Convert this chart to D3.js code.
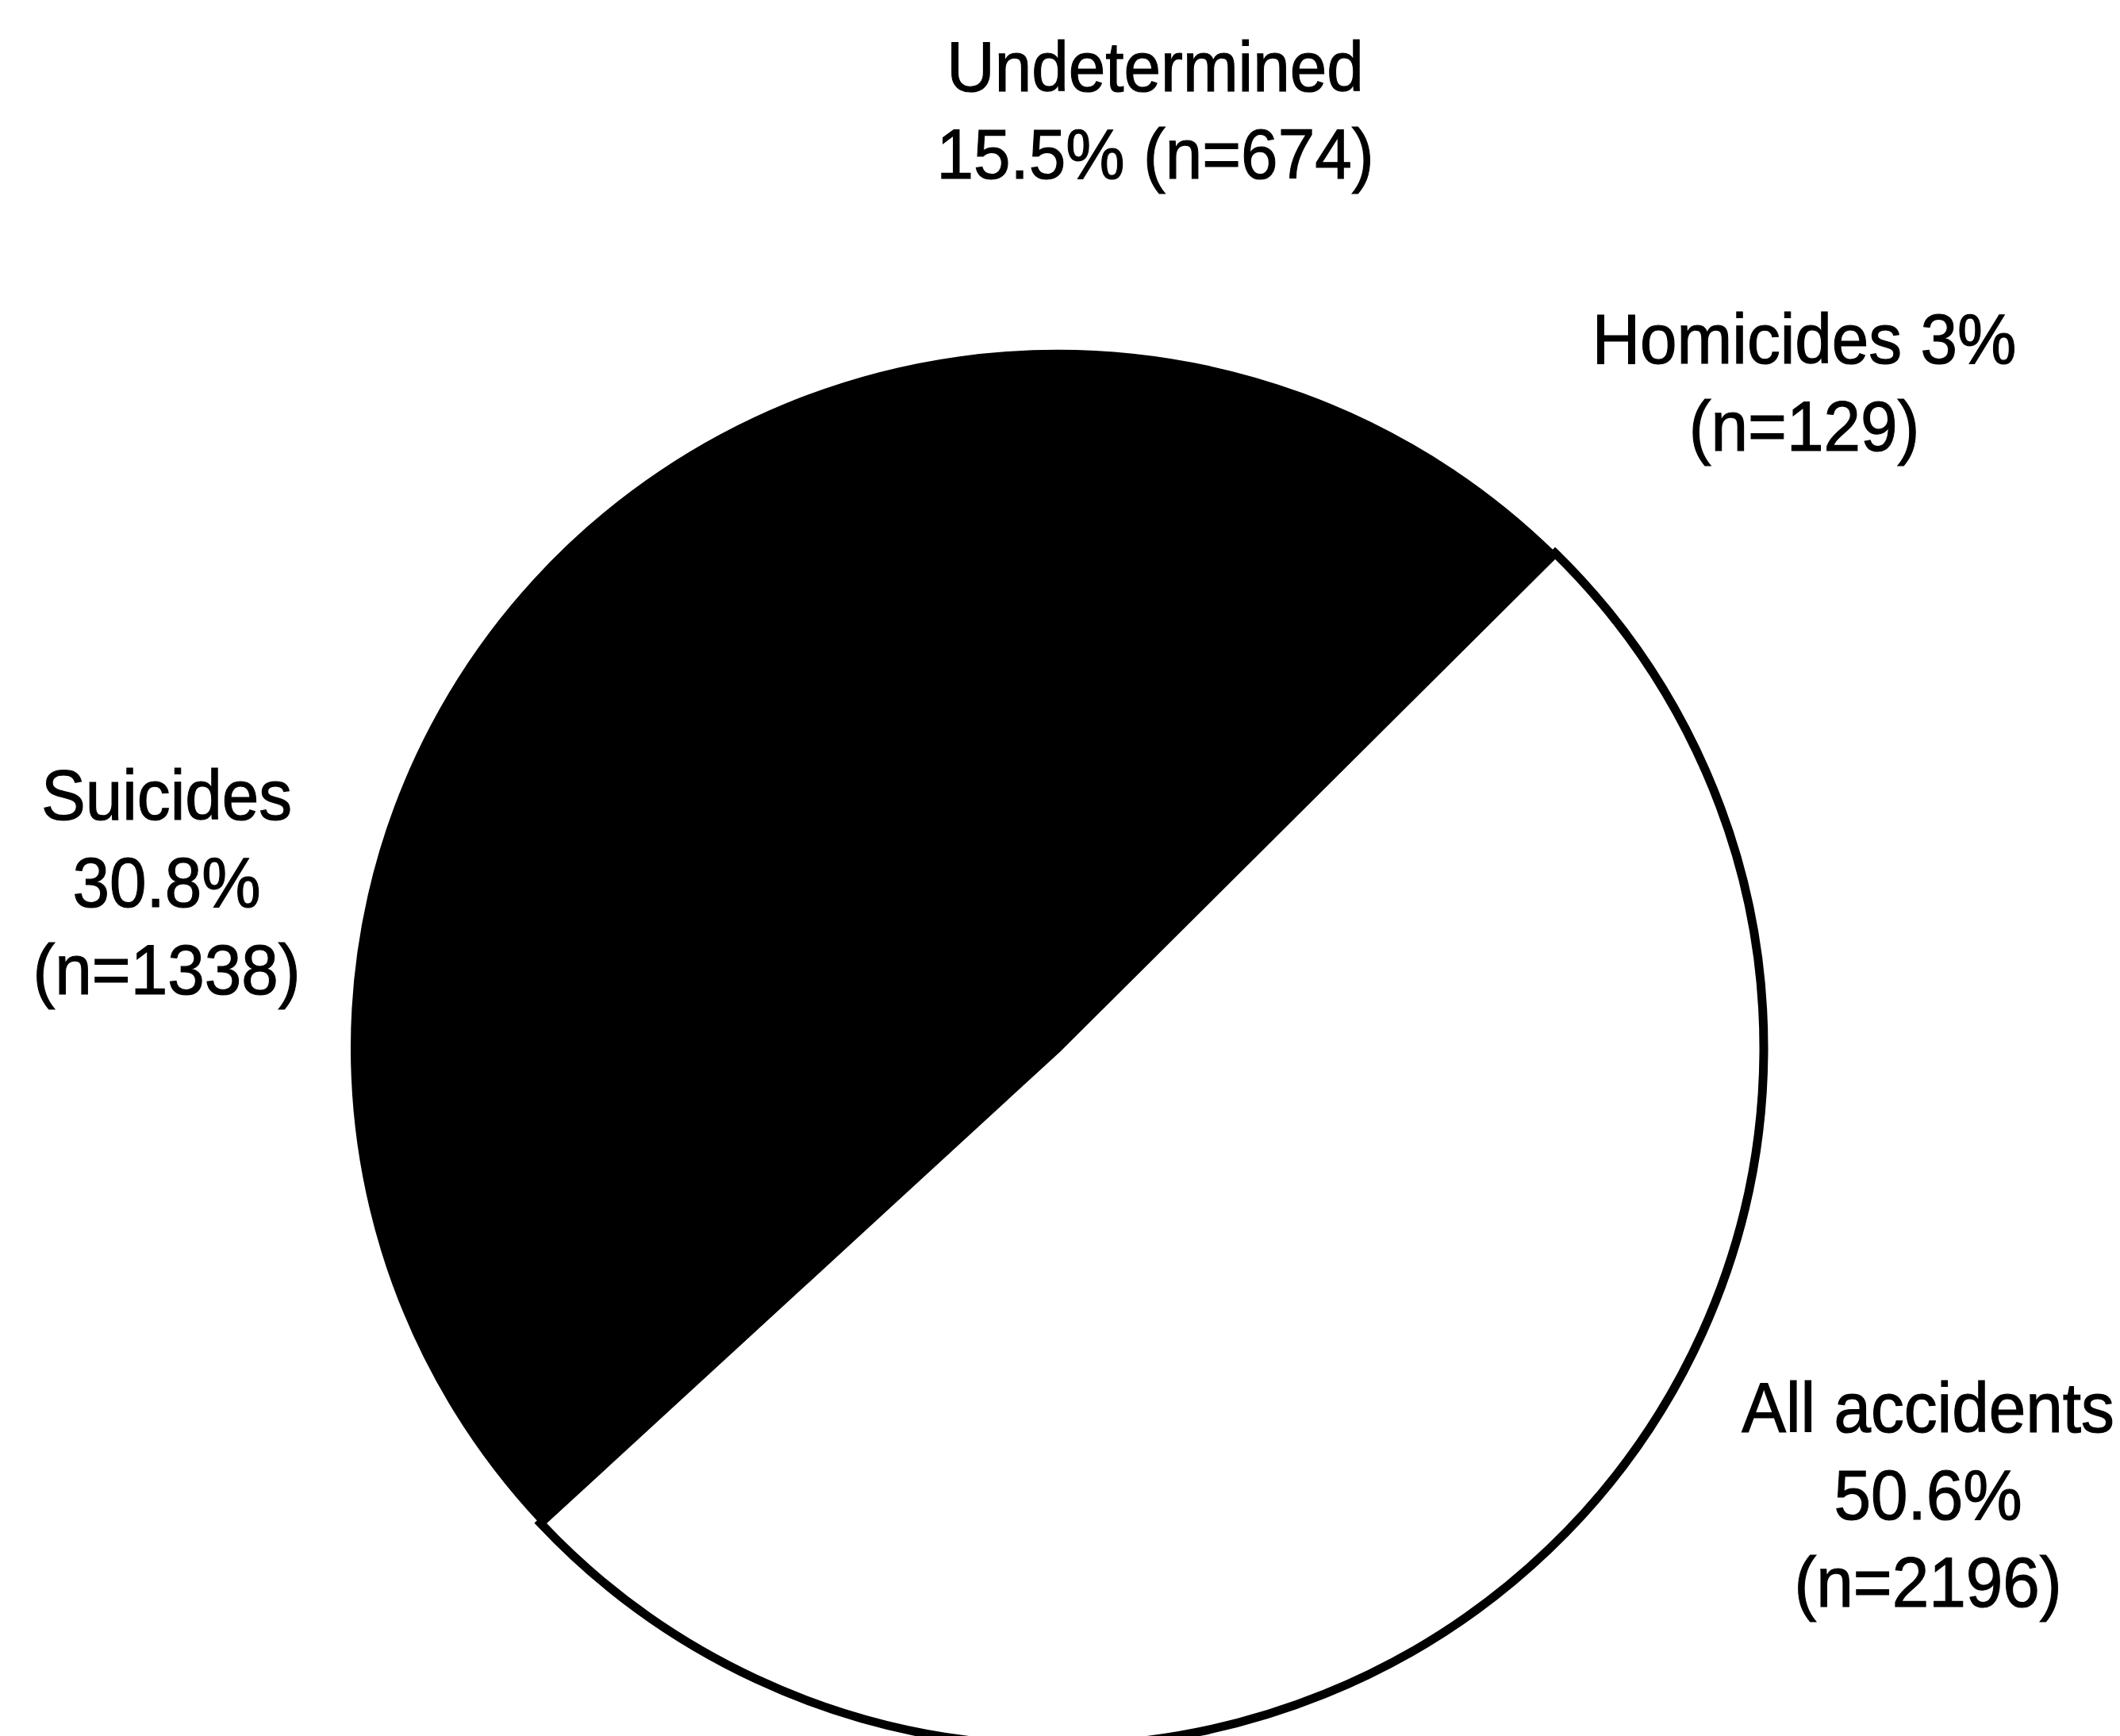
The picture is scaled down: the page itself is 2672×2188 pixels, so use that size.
<!DOCTYPE html>
<html>
<head>
<meta charset="utf-8">
<script src="https://cdn.jsdelivr.net/npm/d3@7"></script>
<style>
  html, body { margin: 0; padding: 0; background: #fff; }
  svg { display: block; }
  .lbl { font-family: 'Liberation Sans', Arial, sans-serif; font-size: 89px; fill: #000; stroke: #000; stroke-width: 1.2px; }
</style>
</head>
<body>
<script>
// manner of death, clockwise from the upper right edge of the accidents slice
const categories = ['All accidents', 'Suicides', 'Undetermined', 'Homicides']
const counts = [2196, 1338, 674, 129]
const percents = ['50.6%', '30.8%', '15.5%', '3%']
const fills = ['#ffffff', '#000000', '#000000', '#000000']

// label lines as printed in the figure
const labelLines = [
  ['All accidents', '50.6%', '(n=2196)'],
  ['Suicides', '30.8%', '(n=1338)'],
  ['Undetermined', '15.5% (n=674)'],
  ['Homicides 3%', '(n=129)']
]

const width = 2672,
  height = 2188
const center = { x: 1333, y: 1321 }
const radius = 890
const squash = 0.988 // the scanned pie is a touch flatter than round
const lineGap = 110

// where each label block sits (first baseline, centre x)
const labelAt = [
  { x: 2430, y: 1805 },
  { x: 210, y: 1033 },
  { x: 1456, y: 115 },
  { x: 2274, y: 458 }
]

const svg = d3
  .select('body')
  .append('svg')
  .attr('width', width)
  .attr('height', height)

const data = categories.map((c, i) => ({ name: c, n: counts[i], pct: percents[i], i: i }))

const pie = d3
  .pie()
  .sort(null)
  .value((d) => d.n)
  .startAngle((44.8 * Math.PI) / 180)
  .endAngle((44.8 * Math.PI) / 180 + 2 * Math.PI)

const arc = d3.arc().innerRadius(0).outerRadius(radius)

const g = svg
  .append('g')
  .attr('transform', `translate(${center.x},${center.y}) scale(1,${squash})`)

// dark slices first, the outlined white one on top
const slices = pie(data)
g.selectAll('path.dark')
  .data(slices.filter((d) => d.data.i !== 0))
  .enter()
  .append('path')
  .attr('class', 'dark')
  .attr('d', arc)
  .attr('fill', (d) => fills[d.data.i])
  .attr('stroke', '#000')
  .attr('stroke-width', 2)

g.selectAll('path.light')
  .data(slices.filter((d) => d.data.i === 0))
  .enter()
  .append('path')
  .attr('class', 'light')
  .attr('d', arc)
  .attr('fill', (d) => fills[d.data.i])
  .attr('stroke', '#000')
  .attr('stroke-width', 11)
  .attr('stroke-linejoin', 'miter')

// labels
const labels = svg
  .selectAll('g.label')
  .data(data)
  .enter()
  .append('g')
  .attr('class', 'label')
  .attr('transform', (d) => `translate(${labelAt[d.i].x},${labelAt[d.i].y}) scale(0.94,1)`)

labels.each(function (d) {
  const el = d3.select(this)
  labelLines[d.i].forEach((t, k) => {
    el.append('text')
      .attr('class', 'lbl')
      .attr('text-anchor', 'middle')
      .attr('x', 0)
      .attr('y', k * lineGap)
      .text(t)
  })
})
</script>
</body>
</html>
